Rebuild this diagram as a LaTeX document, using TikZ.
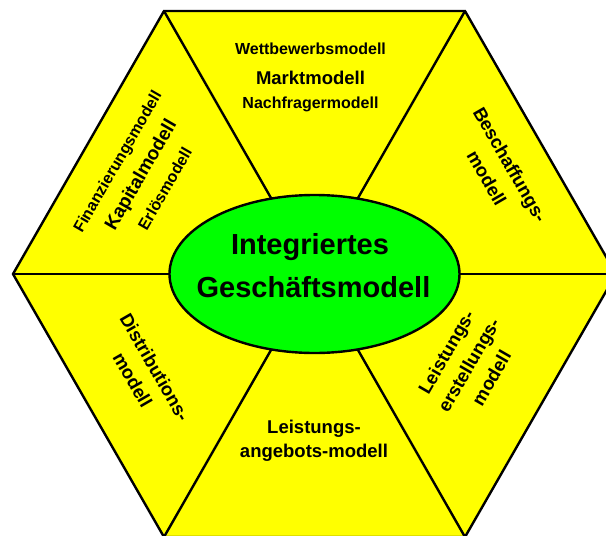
\documentclass[tikz,border=0pt]{standalone}
\usepackage{fontspec}
\setmainfont{Liberation Sans}
\usetikzlibrary{shapes.geometric}
\definecolor{hexyellow}{RGB}{255,255,0}
\definecolor{coregreen}{RGB}{0,255,0}
\begin{document}
\begin{tikzpicture}[x=1pt,y=-1pt,
  edge/.style={line width=2.4pt, line join=miter},
  lbl/.style={inner sep=0pt, outer sep=0pt, align=center},
  small/.style={lbl, font=\fontsize{16}{19}\selectfont\bfseries},
  medium/.style={lbl, font=\fontsize{18.5}{22}\selectfont\bfseries},
  large/.style={lbl, font=\fontsize{29}{34}\selectfont\bfseries}]
\useasboundingbox (0,0) rectangle (606,536);
\clip (0,0) rectangle (606,536);

% hexagon corners and centre
\coordinate (M)  at (314.5,274);
\coordinate (TL) at (164,11);
\coordinate (TR) at (465,11);
\coordinate (R)  at (616,274);
\coordinate (BR) at (465,537);
\coordinate (BL) at (164,537);
\coordinate (L)  at (13,274);

% yellow hexagon split into six triangles
\filldraw[edge, fill=hexyellow] (TL) -- (TR) -- (R) -- (BR) -- (BL) -- (L) -- cycle;
\draw[edge] (TL) -- (BR);
\draw[edge] (TR) -- (BL);
\draw[edge] (L) -- (R);

% central ellipse
\node[ellipse, draw, line width=2.4pt, fill=coregreen, inner sep=0pt,
      minimum width=290pt, minimum height=158pt] (core) at (M) {};
\node[large, anchor=base] (core1) at (310,254) {Integriertes};
\node[large, anchor=base] (core2) at (313.5,297) {Geschäftsmodell};

% top triangle
\node[small,  anchor=base] (top1) at (310.5,54)    {Wettbewerbsmodell};
\node[medium, anchor=base] (top2) at (310.5,84)    {Marktmodell};
\node[small,  anchor=base] (top3) at (310.5,108.7) {Nachfragermodell};

% upper left triangle
\node[lbl, font=\fontsize{16}{27.5}\selectfont\bfseries, rotate=60] (ul) at (141,175)
  {Finanzierungsmodell\\{\fontsize{19}{27.5}\selectfont Kapitalmodell}\\Erlösmodell};

% upper right triangle
\node[medium, font=\fontsize{18.5}{27}\selectfont\bfseries, rotate=-60] (ur) at (498.5,171.3)
  {Beschaffungs-\\modell};

% lower left triangle
\node[medium, font=\fontsize{18.5}{25.5}\selectfont\bfseries, rotate=-60] (ll) at (143.8,373.4)
  {Distributions-\\modell};

% lower right triangle
\node[medium, font=\fontsize{18.5}{26}\selectfont\bfseries, rotate=60] (lr) at (468.7,365)
  {Leistungs-\\erstellungs-\\modell};

% bottom triangle
\node[medium, font=\fontsize{18.5}{24}\selectfont\bfseries] (bt) at (314,441.2)
  {Leistungs-\\angebots-modell};
\end{tikzpicture}
\end{document}
